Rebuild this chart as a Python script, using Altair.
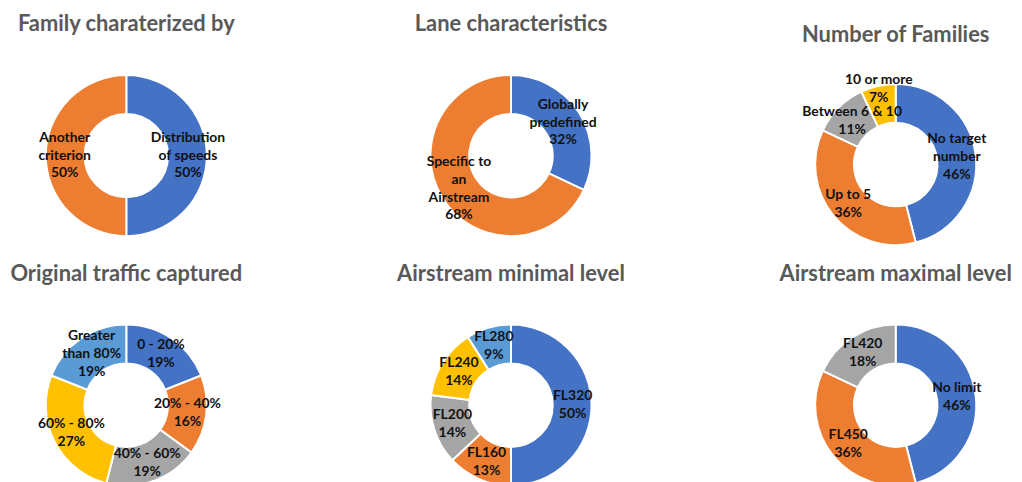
import altair as alt
import pandas as pd

# ---- data ----
titles = ["Family charaterized by", "Lane characteristics", "Number of Families",
          "Original traffic captured", "Airstream minimal level", "Airstream maximal level"]

fam_labels = ["Distribution\nof speeds", "Another\ncriterion"]
fam_values = [50, 50]

lane_labels = ["Globally\npredefined", "Specific to\nan\nAirstream"]
lane_values = [32, 68]

num_labels = ["No target\nnumber", "Up to 5", "Between 6 & 10", "10 or more"]
num_values = [46, 36, 11, 7]

traffic_labels = ["0 - 20%", "20% - 40%", "40% - 60%", "60% - 80%", "Greater\nthan 80%"]
traffic_values = [19, 16, 19, 27, 19]

min_labels = ["FL320", "FL160", "FL200", "FL240", "FL280"]
min_values = [50, 13, 14, 14, 9]

max_labels = ["No limit", "FL450", "FL420"]
max_values = [46, 36, 18]

palette = ["#4472C4", "#ED7D31", "#A5A5A5", "#FFC000", "#5B9BD5"]

FONT = "Lato"
W, H = 238, 216
LH = 18


def donut(title, labels, values, title_dy=0, y_off=0, outer_idx=()):
    n = len(labels)
    texts = [f"{l}\n{v}%" for l, v in zip(labels, values)]
    df = pd.DataFrame({
        "idx": list(range(n)),
        "label": labels,
        "value": values,
        "text": texts,
        "nlines": [t.count("\n") + 1 for t in texts],
        "outer": [i in outer_idx for i in range(n)],
        "col": palette[:n],
    })
    base = alt.Chart(df)
    layers = [
        base.mark_arc(innerRadius=42, outerRadius=81, stroke="white",
                      strokeWidth=2, yOffset=y_off).encode(
            theta=alt.Theta("value:Q", stack=True),
            order=alt.Order("idx:Q"),
            color=alt.Color("col:N", scale=None),
        )
    ]
    for k in sorted(set(df["nlines"])):
        for is_outer in (False, True):
            sub = df[(df["nlines"] == k) & (df["outer"] == is_outer)]
            if sub.empty:
                continue
            layers.append(
                base.transform_joinaggregate(total="sum(value)")
                .transform_window(cum="sum(value)", sort=[alt.SortField("idx")],
                                  frame=[None, 0])
                .transform_calculate(mid="(datum.cum - datum.value / 2) / datum.total")
                .transform_filter(
                    (alt.datum.nlines == k) & (alt.datum.outer == is_outer)
                )
                .mark_text(radius=78 if is_outer else 62, font=FONT, fontSize=14,
                           fontWeight="bold", color="#111111", lineBreak="\n",
                           lineHeight=LH, align="center", baseline="middle",
                           yOffset=y_off, dy=-(k - 1) * LH / 2)
                .encode(
                    theta=alt.Theta("mid:Q", stack=None,
                                    scale=alt.Scale(domain=[0, 1], range=[0, 6.283185307])),
                    text="text:N",
                )
            )
    return alt.layer(*layers).resolve_scale(theta="independent").properties(
        width=W, height=H,
        title=alt.TitleParams(title, font=FONT, fontSize=22, fontWeight="bold",
                              color="#595959", anchor="middle", offset=12,
                              dy=title_dy),
    )


row1 = alt.hconcat(
    donut(titles[0], fam_labels, fam_values),
    donut(titles[1], lane_labels, lane_values),
    donut(titles[2], num_labels, num_values, title_dy=11, y_off=9, outer_idx=(3,)),
    spacing=149,
)
row2 = alt.hconcat(
    donut(titles[3], traffic_labels, traffic_values),
    donut(titles[4], min_labels, min_values),
    donut(titles[5], max_labels, max_values),
    spacing=149,
)

chart = alt.vconcat(row1, row2, spacing=0).properties(
    padding={"left": 0, "top": 4, "right": 0, "bottom": 0}
).configure_view(stroke=None)

chart.save("out.html", embed_options={"renderer": "svg", "actions": False})
